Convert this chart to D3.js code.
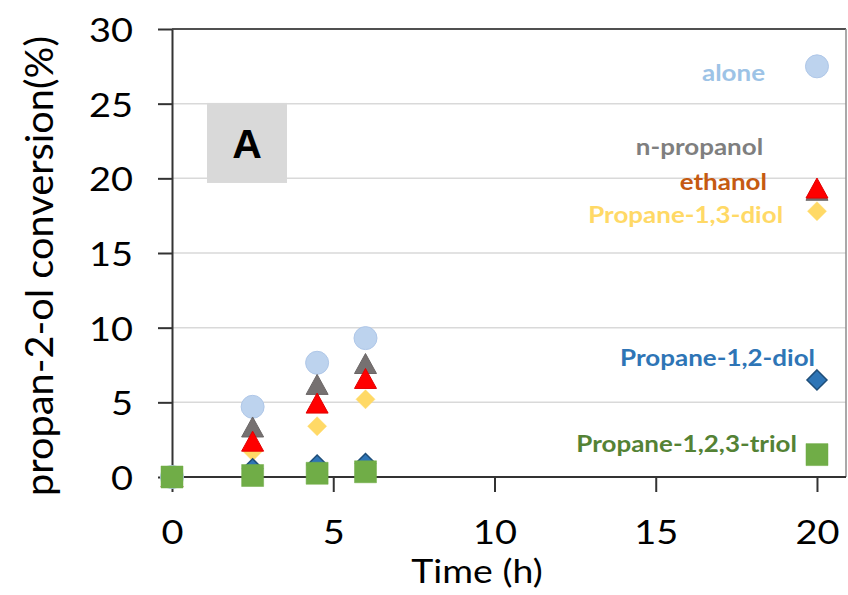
<!DOCTYPE html>
<html><head><meta charset="utf-8">
<script src="https://cdn.jsdelivr.net/npm/d3@7"></script>
<style>body{margin:0;background:#fff} svg{display:block}</style>
</head><body>
<svg id="c" width="848" height="595"></svg>
<script>
// ---- data ----
const times = [0, 2.5, 4.5, 6, 20];
const alone      = [0, 4.7, 7.65, 9.3, 27.5];
const nPropanol  = [0, 3.35, 6.2, 7.6, 19.2];
const ethanol    = [0, 2.4, 4.95, 6.6, 19.35];
const diol13     = [0, 1.7, 3.4, 5.2, 17.8];
const diol12     = [0, 0.55, 0.8, 0.9, 6.5];
const triol      = [0, 0.1, 0.25, 0.35, 1.5];
const seriesNames = ["alone", "n-propanol", "Propane-1,3-diol", "Propane-1,2-diol", "ethanol", "Propane-1,2,3-triol"];
const xTicks = [0, 5, 10, 15, 20];
const yTicks = [0, 5, 10, 15, 20, 25, 30];
const xTitle = "Time (h)";
const yTitle = "propan-2-ol conversion(%)";
const panelLabel = "A";

// ---- layout ----
const svg = d3.select("#c");
const x = d3.scaleLinear().domain([0, 20.9]).range([172, 846]);
const y = d3.scaleLinear().domain([0, 30]).range([477, 29]);
const FONT = "Lato, 'Open Sans', sans-serif";
const kTick = 1.15, kLab = 1.13;

const tri = (w, h) => `M0,${-h/2}L${w/2},${h/2}L${-w/2},${h/2}Z`;
const dia = (s) => `M0,${-s}L${s},0L0,${s}L${-s},0Z`;
const styles = {
  "alone":              {path: d3.symbol(d3.symbolCircle, Math.PI*11.5*11.5)(), fill: "#BDD3EE", stroke: "#AFC7E8", sw: 1, color: "#9DC3E6", at: [18.39, 26.54]},
  "n-propanol":         {path: tri(22, 20), fill: "#767171", stroke: "#6b6666", sw: 1, color: "#7F7F7F", at: [18.33, 21.57]},
  "Propane-1,3-diol":   {path: dia(9.5), fill: "#FFD966", stroke: "#FFD966", sw: 0.5, color: "#FFD966", at: [18.95, 17.01]},
  "Propane-1,2-diol":   {path: dia(10), fill: "#2E75B6", stroke: "#1F4E79", sw: 1.5, color: "#2E75B6", at: [19.94, 7.43]},
  "ethanol":            {path: tri(22, 20), fill: "#FF0000", stroke: "#E00000", sw: 1, color: "#C55A11", at: [18.45, 19.22]},
  "Propane-1,2,3-triol":{path: d3.symbol(d3.symbolSquare, 22*22)(), fill: "#70AD47", stroke: "#70AD47", sw: 0.5, color: "#548235", at: [19.38, 1.67]}
};
const valuesByName = {
  "alone": alone, "n-propanol": nPropanol, "ethanol": ethanol,
  "Propane-1,3-diol": diol13, "Propane-1,2-diol": diol12, "Propane-1,2,3-triol": triol
};

// gridlines
svg.append("g").selectAll("line").data(yTicks.filter(v => v > 0 && v < 30)).join("line")
  .attr("x1", x(0)).attr("x2", x.range()[1]).attr("y1", d => y(d)).attr("y2", d => y(d))
  .attr("stroke", "#D9D9D9").attr("stroke-width", 1.5);

// plot frame (top, right)
svg.append("line").attr("x1", x(0)).attr("x2", x.range()[1]).attr("y1", y(30)).attr("y2", y(30))
  .attr("stroke", "#505050").attr("stroke-width", 2);
svg.append("line").attr("x1", x.range()[1]).attr("x2", x.range()[1]).attr("y1", y(30)).attr("y2", y(0))
  .attr("stroke", "#8C8C8C").attr("stroke-width", 1.5);

// panel label box
svg.append("rect").attr("x", x(1.085)).attr("y", y(25.05))
  .attr("width", x(3.566) - x(1.085)).attr("height", y(19.69) - y(25.05)).attr("fill", "#D9D9D9");
svg.append("text").attr("x", (x(1.085) + x(3.566)) / 2).attr("y", 158)
  .attr("text-anchor", "middle").attr("font-family", "'Liberation Sans', Arial, sans-serif")
  .attr("font-weight", "bold").attr("font-size", 41).attr("fill", "#000").text(panelLabel);

// axes
const yAxis = svg.append("g").attr("transform", `translate(${x(0)},0)`)
  .call(d3.axisLeft(y).tickValues(yTicks).tickSize(14).tickSizeOuter(0).tickFormat(d3.format("d")));
const xAxis = svg.append("g").attr("transform", `translate(0,${y(0)})`)
  .call(d3.axisBottom(x).tickValues(xTicks).tickSize(15).tickSizeOuter(0).tickFormat(d3.format("d")));
[yAxis, xAxis].forEach(g => {
  g.select(".domain").attr("stroke", "#333").attr("stroke-width", 2);
  g.selectAll(".tick line").attr("stroke", "#333").attr("stroke-width", 2);
  g.selectAll(".tick text").attr("font-family", FONT).attr("font-size", 33).attr("fill", "#000");
});
xAxis.select(".domain").attr("d", `M${x(0)},0H${x.range()[1]}`);
yAxis.selectAll(".tick text").attr("x", null).attr("dy", null)
  .attr("dominant-baseline", "central")
  .attr("transform", `translate(-39,0) scale(${kTick},1)`);
xAxis.selectAll(".tick text").attr("y", null).attr("dy", null)
  .attr("transform", `translate(0,67) scale(${kTick},1)`);

// axis titles
svg.append("text").attr("transform", `translate(${(x(0) + x.range()[1]) / 2 - 32},583) scale(1.17,1)`)
  .attr("text-anchor", "middle").attr("font-family", FONT).attr("font-size", 32).attr("fill", "#000").text(xTitle);
svg.append("text").attr("transform", `translate(53,266) scale(1.05,1) rotate(-90)`)
  .attr("text-anchor", "middle").attr("font-family", FONT).attr("font-size", 36)
  .attr("textLength", 460).attr("lengthAdjust", "spacingAndGlyphs")
  .attr("fill", "#000").text(yTitle);

// markers
seriesNames.forEach(name => {
  const st = styles[name];
  svg.append("g").selectAll("path").data(times.map((t, i) => [t, valuesByName[name][i]])).join("path")
    .attr("d", st.path)
    .attr("transform", d => `translate(${x(d[0])},${y(d[1])})`)
    .attr("fill", st.fill).attr("stroke", st.stroke).attr("stroke-width", st.sw);
});

// series labels
seriesNames.forEach(name => {
  const st = styles[name];
  svg.append("text").attr("transform", `translate(${x(st.at[0])},${y(st.at[1])}) scale(${kLab},1)`)
    .attr("text-anchor", "end").attr("font-family", FONT).attr("font-weight", "bold")
    .attr("font-size", 23).attr("fill", st.color).text(name);
});
</script>
</body></html>
